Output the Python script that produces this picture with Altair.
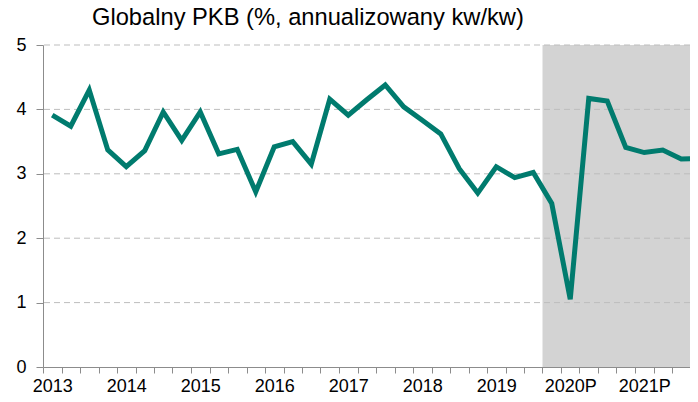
import altair as alt
import pandas as pd

# Quarterly categories 2013Q1 .. 2021Q4
quarters = [
    "2013Q1", "2013Q2", "2013Q3", "2013Q4",
    "2014Q1", "2014Q2", "2014Q3", "2014Q4",
    "2015Q1", "2015Q2", "2015Q3", "2015Q4",
    "2016Q1", "2016Q2", "2016Q3", "2016Q4",
    "2017Q1", "2017Q2", "2017Q3", "2017Q4",
    "2018Q1", "2018Q2", "2018Q3", "2018Q4",
    "2019Q1", "2019Q2", "2019Q3", "2019Q4",
    "2020Q1", "2020Q2", "2020Q3", "2020Q4",
    "2021Q1", "2021Q2", "2021Q3", "2021Q4",
]
gdp = [
    3.91, 3.74, 4.30, 3.37,
    3.11, 3.36, 3.96, 3.52,
    3.96, 3.31, 3.38, 2.72,
    3.42, 3.50, 3.15, 4.16,
    3.91, 4.15, 4.38, 4.04,
    3.83, 3.62, 3.08, 2.70,
    3.11, 2.94, 3.02, 2.54,
    1.05, 4.17, 4.13, 3.41,
    3.33, 3.37, 3.23, 3.24,
]
year_labels = ["2013", "2014", "2015", "2016", "2017", "2018", "2019", "2020P", "2021P"]
year_first_quarter = ["2013Q1", "2014Q1", "2015Q1", "2016Q1", "2017Q1", "2018Q1", "2019Q1", "2020Q1", "2021Q1"]
forecast_start = "2019Q4"
y_ticks = [0, 1, 2, 3, 4, 5]
grid_values = [1, 2, 3, 4, 5]

PLOT_W = 647
PLOT_H = 322
STEP = 18.5
x_max = PLOT_W / STEP

idx = {q: i for i, q in enumerate(quarters)}
df = pd.DataFrame({"q": quarters, "pos": [i + 0.5 for i in range(len(quarters))], "v": gdp})
shade = pd.DataFrame({"x0": [idx[forecast_start]], "x1": [len(quarters)]})
grid = pd.DataFrame({"g": grid_values})

label_pos = [idx[q] + 0.5 for q in year_first_quarter]
expr = ""
for p, lab in zip(label_pos, year_labels):
    expr += f"datum.value === {p} ? '{lab}' : "
expr += "''"

tick_vals = sorted(set([float(i) for i in range(len(quarters))] + label_pos))

xscale = alt.Scale(domain=[0, x_max], nice=False, zero=False)
yscale = alt.Scale(domain=[0, 5], nice=False)

xaxis = alt.Axis(
    values=tick_vals,
    labelExpr=expr,
    tickOpacity={"condition": {"test": "datum.value % 1 === 0", "value": 1}, "value": 0},
    tickSize=6,
    tickColor="#8c8c8c",
    domainColor="#8c8c8c",
    labelPadding=4,
    labelFontSize=18,
    labelColor="black",
    labelOverlap=False,
    labelFlush=False,
    grid=False,
    title=None,
)
yaxis = alt.Axis(
    values=y_ticks,
    tickSize=7,
    tickColor="#8c8c8c",
    domainColor="#8c8c8c",
    labelPadding=10,
    labelFontSize=18,
    labelColor="black",
    grid=False,
    title=None,
)

rect = alt.Chart(shade).mark_rect(color="#d3d3d3", clip=True).encode(
    x=alt.X("x0:Q", scale=xscale, axis=xaxis),
    x2="x1:Q",
    y=alt.value(0),
    y2=alt.value(PLOT_H),
)

rules = alt.Chart(grid).mark_rule(color="#bdbdbd", strokeDash=[6, 4], strokeWidth=1).encode(
    y=alt.Y("g:Q", scale=yscale, axis=yaxis),
)

line = alt.Chart(df).mark_line(color="#007b6e", strokeWidth=5, clip=True).encode(
    x=alt.X("pos:Q", scale=xscale, axis=xaxis),
    y=alt.Y("v:Q", scale=yscale, axis=yaxis),
)

chart = alt.layer(rect, rules, line).properties(
    width=PLOT_W,
    height=PLOT_H,
    padding={"left": 35, "top": 37, "right": 0, "bottom": 27},
    autosize="none",
    title=alt.TitleParams(
        "Globalny PKB (%, annualizowany kw/kw)",
        anchor="start",
        frame="group",
        dx=49,
        fontSize=23.7,
        fontWeight="normal",
        color="black",
        font="Liberation Sans",
        offset=6,
    ),
).configure(font="Liberation Sans").configure_view(stroke=None)

chart.save("out.html", embed_options={"renderer": "svg", "actions": False})
